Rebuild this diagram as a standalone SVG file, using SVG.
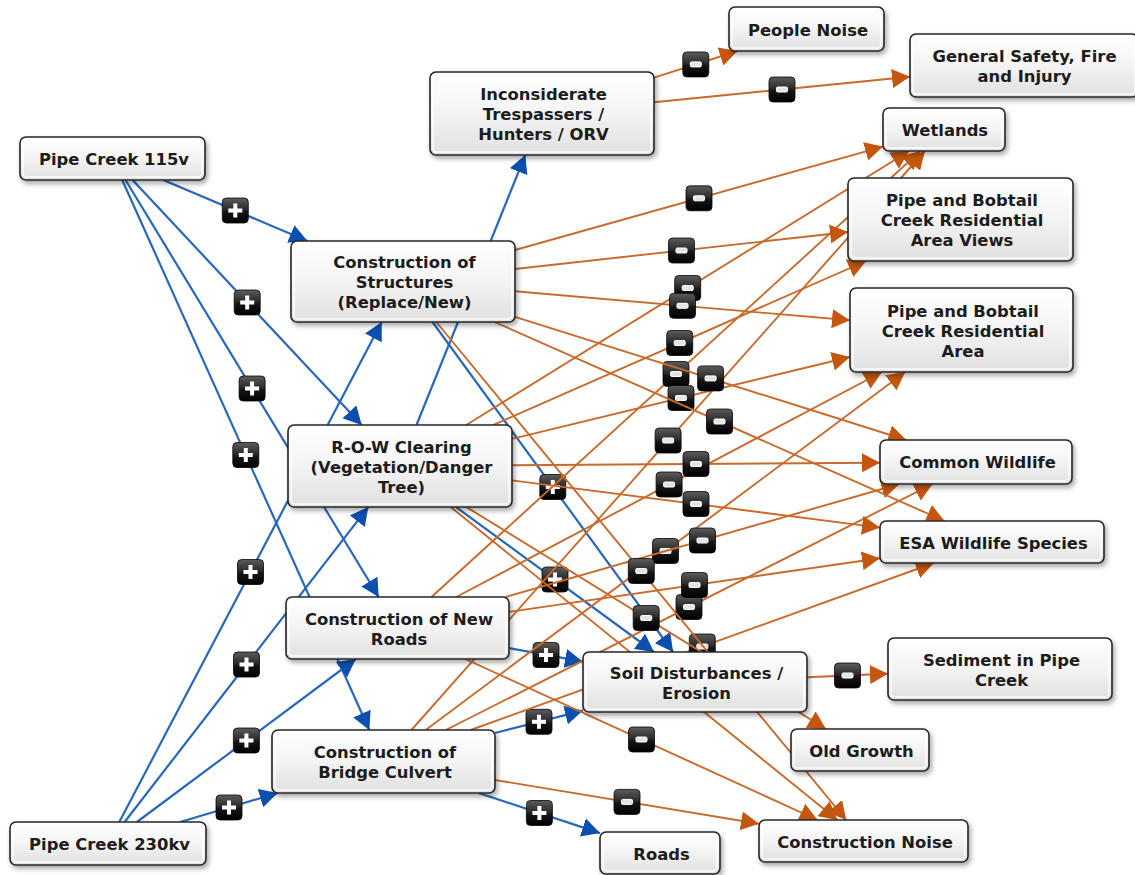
<svg xmlns="http://www.w3.org/2000/svg" width="1135" height="875" viewBox="0 0 1135 875">
  <style>
    .box { fill: url(#boxFill); stroke: #262626; stroke-width: 1.6; filter: url(#shadow); }
    .hl { fill: none; stroke: #ffffff; stroke-width: 1.4; stroke-opacity: 0.9; }
    .label { font-family: "DejaVu Sans", Verdana, sans-serif; font-weight: bold; font-size: 16.4px; fill: #1c1c1c; text-anchor: middle; }
    .pos line { stroke: #2767bc; stroke-width: 2.2; marker-end: url(#arrowBlue); }
    .neg line { stroke: #c86a2c; stroke-width: 1.9; marker-end: url(#arrowOrange); }
  </style>
  <defs>
    <linearGradient id="boxFill" x1="0" y1="0" x2="0" y2="1">
      <stop offset="0" stop-color="#ffffff"/>
      <stop offset="0.45" stop-color="#f5f5f5"/>
      <stop offset="1" stop-color="#e0e0e0"/>
    </linearGradient>
    <linearGradient id="badgeFill" x1="0" y1="0" x2="0" y2="1">
      <stop offset="0" stop-color="#5c5c5c"/>
      <stop offset="0.45" stop-color="#2c2c2c"/>
      <stop offset="0.55" stop-color="#161616"/>
      <stop offset="1" stop-color="#000000"/>
    </linearGradient>
    <filter id="shadow" x="-10%" y="-15%" width="125%" height="145%">
      <feDropShadow dx="2" dy="3" stdDeviation="2.4" flood-color="#000" flood-opacity="0.35"/>
    </filter>
    <marker id="arrowBlue" markerUnits="userSpaceOnUse" viewBox="0 0 18 19" markerWidth="18" markerHeight="19" refX="18" refY="9.5" orient="auto">
      <path d="M0,0 L18,9.5 L0,19 z" fill="#0c4fae"/>
    </marker>
    <marker id="arrowOrange" markerUnits="userSpaceOnUse" viewBox="0 0 18 19" markerWidth="18" markerHeight="19" refX="18" refY="9.5" orient="auto">
      <path d="M0,0 L18,9.5 L0,19 z" fill="#c4560f"/>
    </marker>
    <g id="bPlus">
      <rect x="-13" y="-12.5" width="26" height="25" rx="4" fill="url(#badgeFill)" stroke="#050505" stroke-width="0.8"/>
      <rect x="-7" y="-2" width="14" height="4" fill="#ffffff"/>
      <rect x="-2" y="-7" width="4" height="14" fill="#ffffff"/>
    </g>
    <g id="bMinus">
      <rect x="-13" y="-12.5" width="26" height="25" rx="4" fill="url(#badgeFill)" stroke="#050505" stroke-width="0.8"/>
      <rect x="-5.5" y="-2.5" width="11" height="5" rx="1.2" fill="#e4e4e4" stroke="#ffffff" stroke-width="1"/>
    </g>
  </defs>

  <rect width="1135" height="875" fill="#ffffff"/>

  <g id="connectors">
    <!-- positive links -->
    <g class="pos"><line x1="163.3" y1="180" x2="307.4" y2="241"/><use href="#bPlus" x="235.3" y="210.5"/></g>
    <g class="pos"><line x1="132.6" y1="180" x2="361.7" y2="425"/><use href="#bPlus" x="247.2" y="302.5"/></g>
    <g class="pos"><line x1="125.5" y1="180" x2="378.7" y2="597"/><use href="#bPlus" x="252.1" y="388.5"/></g>
    <g class="pos"><line x1="122.2" y1="180" x2="369.3" y2="730"/><use href="#bPlus" x="245.8" y="455"/></g>
    <g class="pos"><line x1="119.3" y1="822" x2="381.7" y2="322"/><use href="#bPlus" x="250.5" y="572"/></g>
    <g class="pos"><line x1="124.6" y1="822" x2="368.3" y2="507"/><use href="#bPlus" x="246.5" y="664.5"/></g>
    <g class="pos"><line x1="136.9" y1="822" x2="355.8" y2="659"/><use href="#bPlus" x="246.4" y="740.5"/></g>
    <g class="pos"><line x1="180.2" y1="822" x2="277.7" y2="793"/><use href="#bPlus" x="229" y="807.5"/></g>
    <g class="pos"><line x1="416.5" y1="425" x2="525.3" y2="155"/></g>
    <g class="pos"><line x1="432.5" y1="322" x2="673.1" y2="652"/><use href="#bPlus" x="552.8" y="487"/></g>
    <g class="pos"><line x1="456" y1="507" x2="654" y2="652"/><use href="#bPlus" x="555" y="579.5"/></g>
    <g class="pos"><line x1="509" y1="648.2" x2="583" y2="661.7"/><use href="#bPlus" x="546" y="655"/></g>
    <g class="pos"><line x1="495" y1="733" x2="583" y2="710.6"/><use href="#bPlus" x="539" y="721.8"/></g>
    <g class="pos"><line x1="478.7" y1="793" x2="600" y2="833.1"/><use href="#bPlus" x="539.4" y="813"/></g>

    <!-- negative links: bridge culvert -->
    <g class="neg"><line x1="411.4" y1="730" x2="924.9" y2="151"/><use href="#bMinus" x="668.1" y="440.5"/></g>
    <g class="neg"><line x1="425.7" y1="730" x2="905.2" y2="372"/><use href="#bMinus" x="665.5" y="551"/></g>
    <g class="neg"><line x1="445.8" y1="730" x2="932.5" y2="484"/><use href="#bMinus" x="689" y="607"/></g>
    <g class="neg"><line x1="470.8" y1="730" x2="933.8" y2="563"/><use href="#bMinus" x="702.3" y="646.5"/></g>
    <g class="neg"><line x1="495" y1="780" x2="759" y2="823.7"/><use href="#bMinus" x="627" y="801.9"/></g>
    <!-- new roads -->
    <g class="neg"><line x1="431.5" y1="597" x2="920.4" y2="151"/><use href="#bMinus" x="676" y="374"/></g>
    <g class="neg"><line x1="456.2" y1="597" x2="882" y2="372"/><use href="#bMinus" x="669.1" y="484.5"/></g>
    <g class="neg"><line x1="505.5" y1="597" x2="899.4" y2="484"/><use href="#bMinus" x="702.5" y="540.5"/></g>
    <g class="neg"><line x1="509" y1="611.9" x2="880" y2="558.2"/><use href="#bMinus" x="694.5" y="585"/></g>
    <g class="neg"><line x1="465.3" y1="659" x2="817.6" y2="820"/><use href="#bMinus" x="641.5" y="739.5"/></g>
    <!-- right-of-way clearing -->
    <g class="neg"><line x1="466.3" y1="425" x2="909.2" y2="151"/><use href="#bMinus" x="687.7" y="288"/></g>
    <g class="neg"><line x1="493.2" y1="425" x2="866.1" y2="261"/><use href="#bMinus" x="679.7" y="343"/></g>
    <g class="neg"><line x1="512" y1="438.9" x2="850" y2="357"/><use href="#bMinus" x="681" y="398"/></g>
    <g class="neg"><line x1="512" y1="465.2" x2="880" y2="462.7"/><use href="#bMinus" x="696" y="464"/></g>
    <g class="neg"><line x1="512" y1="480.4" x2="880" y2="527.6"/><use href="#bMinus" x="696" y="504"/></g>
    <g class="neg"><line x1="466.4" y1="507" x2="826" y2="729"/><use href="#bMinus" x="646.2" y="618"/></g>
    <g class="neg"><line x1="450.7" y1="507" x2="837.5" y2="820"/></g>
    <!-- structures -->
    <g class="neg"><line x1="515" y1="250" x2="883" y2="146.6"/><use href="#bMinus" x="699" y="198.3"/></g>
    <g class="neg"><line x1="515" y1="269" x2="848" y2="232"/><use href="#bMinus" x="681.5" y="250.5"/></g>
    <g class="neg"><line x1="515" y1="291.2" x2="850" y2="320.3"/><use href="#bMinus" x="682.5" y="305.8"/></g>
    <g class="neg"><line x1="515" y1="316.8" x2="906.2" y2="440"/><use href="#bMinus" x="710.6" y="378.4"/></g>
    <g class="neg"><line x1="494.6" y1="322" x2="944.5" y2="521"/><use href="#bMinus" x="719.5" y="421.5"/></g>
    <g class="neg"><line x1="436.3" y1="322" x2="846.2" y2="820"/><use href="#bMinus" x="641.3" y="571"/></g>
    <!-- trespassers and soil -->
    <g class="neg"><line x1="654" y1="77.7" x2="737.6" y2="51"/><use href="#bMinus" x="695.8" y="64.4"/></g>
    <g class="neg"><line x1="654" y1="102.3" x2="910" y2="76.7"/><use href="#bMinus" x="782" y="89.5"/></g>
    <g class="neg"><line x1="807" y1="677.2" x2="888" y2="673.8"/><use href="#bMinus" x="847.5" y="675.5"/></g>
  </g>

  <g id="node-pipe-creek-115v">
    <rect class="box" x="20" y="137" width="185" height="43" rx="6"/>
    <rect class="hl" x="23" y="140" width="179" height="37" rx="4"/>
    <text class="label" x="114" y="165">Pipe Creek 115v</text>
  </g>
  <g id="node-construction-structures">
    <rect class="box" x="291" y="241" width="224" height="81" rx="6"/>
    <rect class="hl" x="294" y="244" width="218" height="75" rx="4"/>
    <text class="label"><tspan x="404.5" y="268">Construction of</tspan><tspan x="404.5" y="288">Structures</tspan><tspan x="404.5" y="308">(Replace/New)</tspan></text>
  </g>
  <g id="node-row-clearing">
    <rect class="box" x="288" y="425" width="224" height="82" rx="6"/>
    <rect class="hl" x="291" y="428" width="218" height="76" rx="4"/>
    <text class="label"><tspan x="401.5" y="453">R-O-W Clearing</tspan><tspan x="401.5" y="473">(Vegetation/Danger</tspan><tspan x="401.5" y="493">Tree)</tspan></text>
  </g>
  <g id="node-trespassers">
    <rect class="box" x="430" y="72" width="224" height="83" rx="6"/>
    <rect class="hl" x="433" y="75" width="218" height="77" rx="4"/>
    <text class="label"><tspan x="543.5" y="100">Inconsiderate</tspan><tspan x="543.5" y="120">Trespassers /</tspan><tspan x="543.5" y="140">Hunters / ORV</tspan></text>
  </g>
  <g id="node-people-noise">
    <rect class="box" x="729" y="7" width="155" height="44" rx="6"/>
    <rect class="hl" x="732" y="10" width="149" height="38" rx="4"/>
    <text class="label" x="808" y="36">People Noise</text>
  </g>
  <g id="node-general-safety">
    <rect class="box" x="910" y="34" width="228" height="63" rx="6"/>
    <rect class="hl" x="913" y="37" width="222" height="57" rx="4"/>
    <text class="label"><tspan x="1024.5" y="62">General Safety, Fire</tspan><tspan x="1024.5" y="82">and Injury</tspan></text>
  </g>
  <g id="node-wetlands">
    <rect class="box" x="883" y="108" width="122" height="43" rx="6"/>
    <rect class="hl" x="886" y="111" width="116" height="37" rx="4"/>
    <text class="label" x="945" y="136">Wetlands</text>
  </g>
  <g id="node-residential-views">
    <rect class="box" x="848" y="178" width="225" height="83" rx="6"/>
    <rect class="hl" x="851" y="181" width="219" height="77" rx="4"/>
    <text class="label"><tspan x="962" y="206">Pipe and Bobtail</tspan><tspan x="962" y="226">Creek Residential</tspan><tspan x="962" y="246">Area Views</tspan></text>
  </g>
  <g id="node-residential-area">
    <rect class="box" x="850" y="288" width="223" height="84" rx="6"/>
    <rect class="hl" x="853" y="291" width="217" height="78" rx="4"/>
    <text class="label"><tspan x="963" y="316.5">Pipe and Bobtail</tspan><tspan x="963" y="336.5">Creek Residential</tspan><tspan x="963" y="356.5">Area</tspan></text>
  </g>
  <g id="node-common-wildlife">
    <rect class="box" x="880" y="440" width="192" height="44" rx="6"/>
    <rect class="hl" x="883" y="443" width="186" height="38" rx="4"/>
    <text class="label" x="977.5" y="468">Common Wildlife</text>
  </g>
  <g id="node-esa-wildlife">
    <rect class="box" x="880" y="521" width="224" height="42" rx="6"/>
    <rect class="hl" x="883" y="524" width="218" height="36" rx="4"/>
    <text class="label" x="993.5" y="548.5">ESA Wildlife Species</text>
  </g>
  <g id="node-new-roads">
    <rect class="box" x="286" y="597" width="223" height="62" rx="6"/>
    <rect class="hl" x="289" y="600" width="217" height="56" rx="4"/>
    <text class="label"><tspan x="399" y="624.5">Construction of New</tspan><tspan x="399" y="644.5">Roads</tspan></text>
  </g>
  <g id="node-soil-disturbance">
    <rect class="box" x="583" y="652" width="224" height="60" rx="6"/>
    <rect class="hl" x="586" y="655" width="218" height="54" rx="4"/>
    <text class="label"><tspan x="696.5" y="678.5">Soil Disturbances /</tspan><tspan x="696.5" y="698.5">Erosion</tspan></text>
  </g>
  <g id="node-sediment">
    <rect class="box" x="888" y="638" width="224" height="62" rx="6"/>
    <rect class="hl" x="891" y="641" width="218" height="56" rx="4"/>
    <text class="label"><tspan x="1001.5" y="665.5">Sediment in Pipe</tspan><tspan x="1001.5" y="685.5">Creek</tspan></text>
  </g>
  <g id="node-bridge-culvert">
    <rect class="box" x="272" y="730" width="223" height="63" rx="6"/>
    <rect class="hl" x="275" y="733" width="217" height="57" rx="4"/>
    <text class="label"><tspan x="385" y="758">Construction of</tspan><tspan x="385" y="778">Bridge Culvert</tspan></text>
  </g>
  <g id="node-old-growth">
    <rect class="box" x="791" y="729" width="138" height="42" rx="6"/>
    <rect class="hl" x="794" y="732" width="132" height="36" rx="4"/>
    <text class="label" x="861.5" y="756.5">Old Growth</text>
  </g>
  <g id="node-construction-noise">
    <rect class="box" x="759" y="820" width="209" height="42" rx="6"/>
    <rect class="hl" x="762" y="823" width="203" height="36" rx="4"/>
    <text class="label" x="865" y="847.5">Construction Noise</text>
  </g>
  <g id="node-roads">
    <rect class="box" x="600" y="832" width="120" height="42" rx="6"/>
    <rect class="hl" x="603" y="835" width="114" height="36" rx="4"/>
    <text class="label" x="661.5" y="859.5">Roads</text>
  </g>
  <g id="node-pipe-creek-230kv">
    <rect class="box" x="10" y="822" width="196" height="43" rx="6"/>
    <rect class="hl" x="13" y="825" width="190" height="37" rx="4"/>
    <text class="label" x="109.5" y="849.5">Pipe Creek 230kv</text>
  </g>
</svg>
